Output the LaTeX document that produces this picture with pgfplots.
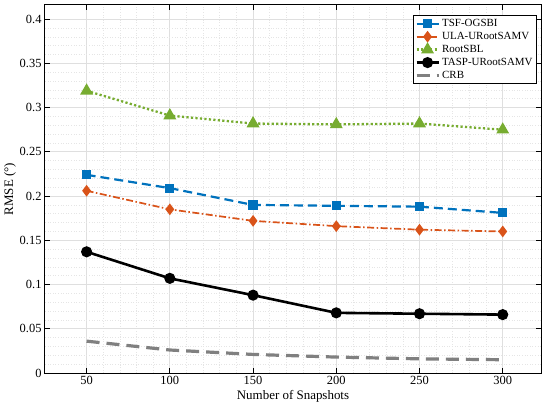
\documentclass[border=0pt]{standalone}
\usepackage{pgfplots}
\pgfplotsset{compat=1.18}
\usepackage{fontspec}
\setmainfont{Liberation Serif}
\definecolor{mblue}{rgb}{0,0.447,0.741}
\definecolor{morange}{rgb}{0.85,0.325,0.098}
\definecolor{mgreen}{rgb}{0.466,0.674,0.188}
\definecolor{mgray}{rgb}{0.5,0.5,0.5}
\begin{document}
\begin{tikzpicture}
\useasboundingbox (-45bp,-39bp) rectangle (505bp,373bp);
\begin{axis}[
  scale only axis,
  width=496bp, height=368bp,
  xmin=25, xmax=323, ymin=0, ymax=0.416,
  xtick={50,100,150,200,250,300},
  ytick={0,0.05,0.1,0.15,0.2,0.25,0.3,0.35,0.4},
  minor x tick num=4, minor y tick num=4,
  minor tick length=0pt,
  major tick length=5bp,
  tick style={black, line width=0.8bp},
  axis line style={black, line width=1bp},
  grid=both,
  major grid style={gray!25, line width=1bp},
  minor grid style={gray!20, line width=0.6bp, dotted},
  /pgf/number format/assume math mode=true,
  /pgf/number format/fixed,
  /pgf/number format/precision=2,
  ticklabel style={font=\fontsize{12.5}{14}\selectfont},
  label style={font=\fontsize{13}{15}\selectfont},
  xlabel={Number of Snapshots},
  ylabel={RMSE (°)},
  xlabel style={yshift=1bp},
  ylabel style={yshift=-3bp},
  legend style={at={(1,1)}, xshift=-4bp, yshift=-10bp, anchor=north east,
    draw=black, line width=0.8bp, fill=white,
    font=\fontsize{11}{13}\selectfont, row sep=0.2bp, inner sep=2bp},
  legend cell align=left,
  legend image code/.code={\draw[mark repeat=2,mark phase=2,#1] plot coordinates {(0bp,0bp) (11bp,0bp) (22bp,0bp)};},
]
\addplot[mblue, line width=2.2bp, dash pattern=on 9bp off 5bp, mark=square*, mark size=3.5bp, mark options={solid}]
 coordinates {(50,0.224)(100,0.209)(150,0.190)(200,0.189)(250,0.188)(300,0.181)};
\addlegendentry{TSF-OGSBI}
\addplot[morange, line width=1.7bp, dash pattern=on 7bp off 2.5bp on 1.5bp off 2.5bp, mark=diamond*, mark size=4.5bp, mark options={solid}]
 coordinates {(50,0.206)(100,0.185)(150,0.172)(200,0.166)(250,0.162)(300,0.160)};
\addlegendentry{ULA-URootSAMV}
\addplot[mgreen, line width=2.3bp, dash pattern=on 2.2bp off 2.3bp, mark=triangle*, mark size=5.2bp, mark options={solid}]
 coordinates {(50,0.319)(100,0.291)(150,0.282)(200,0.281)(250,0.282)(300,0.275)};
\addlegendentry{RootSBL}
\addplot[black, line width=2.6bp, mark=*, mark size=4.2bp]
 coordinates {(50,0.137)(100,0.107)(150,0.088)(200,0.068)(250,0.067)(300,0.066)};
\addlegendentry{TASP-URootSAMV}
\addplot[mgray, line width=3.2bp, dash pattern=on 13bp off 7bp]
 coordinates {(50,0.036)(100,0.026)(150,0.021)(200,0.018)(250,0.016)(300,0.015)};
\addlegendentry{CRB}
\end{axis}
\end{tikzpicture}
\end{document}
